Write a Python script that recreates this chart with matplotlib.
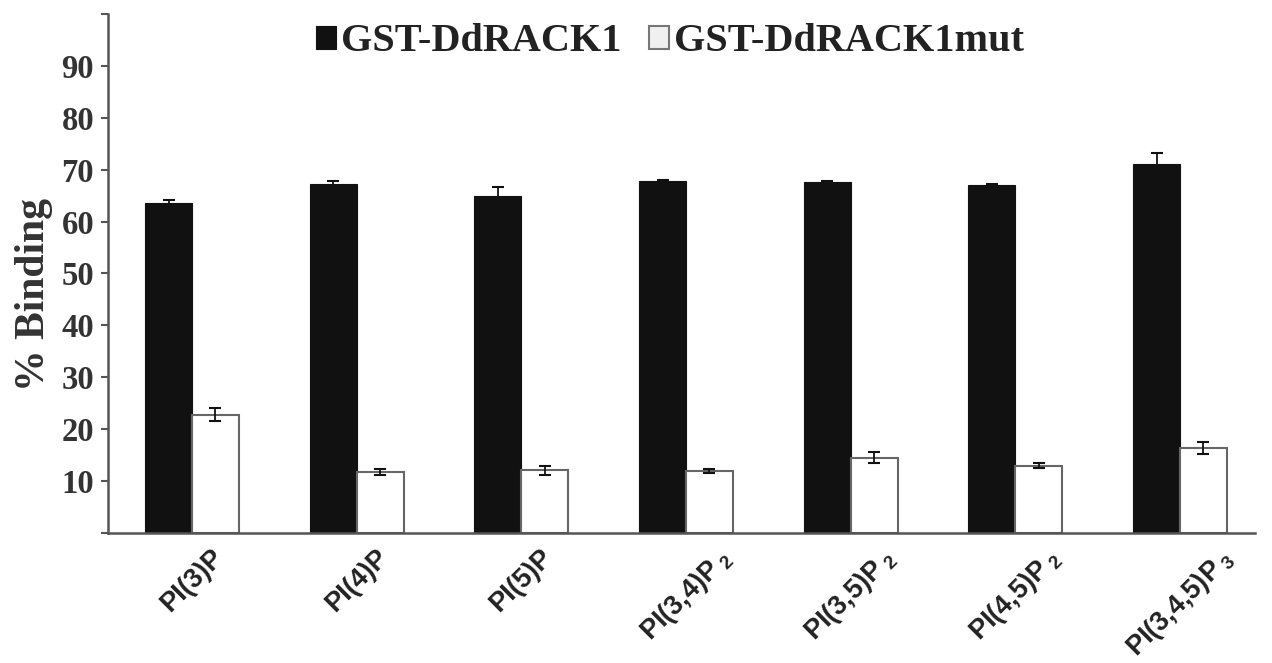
import numpy as np
import matplotlib
matplotlib.use("Agg")
import matplotlib.pyplot as plt

# data
categories = ["PI(3)P", "PI(4)P", "PI(5)P", r"PI(3,4)P$\,_{2}$",
              r"PI(3,5)P$\,_{2}$", r"PI(4,5)P$\,_{2}$", r"PI(3,4,5)P$\,_{3}$"]
rack1 = [63.6, 67.2, 65.0, 67.9, 67.6, 67.0, 71.1]
rack1_err = [0.6, 0.6, 1.7, 0.1, 0.3, 0.3, 2.1]
rack1mut = [22.8, 11.8, 12.05, 11.9, 14.55, 13.0, 16.35]
rack1mut_err = [1.25, 0.6, 0.95, 0.4, 1.15, 0.5, 1.1]

plt.rcParams['mathtext.default'] = 'regular'

fig = plt.figure(figsize=(12.72, 6.63), dpi=100)
ax = fig.add_axes([0.0849, 0.196, 0.9017, 0.783])

x = np.arange(len(categories))
w = 0.285
axis_col = '#555555'

ax.bar(x - w / 2, rack1, width=w, color='#111111', edgecolor='#111111',
       linewidth=0.8, label='GST-DdRACK1')
ax.bar(x + w / 2, rack1mut, width=w, color='white', edgecolor='#666666',
       linewidth=1.5, label='GST-DdRACK1mut')
ax.errorbar(x - w / 2, rack1, yerr=rack1_err, fmt='none', ecolor='#111111',
            elinewidth=1.3, capsize=4, capthick=1.5)
ax.errorbar(x + w / 2, rack1mut, yerr=rack1mut_err, fmt='none', ecolor='#111111',
            elinewidth=1.3, capsize=4, capthick=1.5)

ax.set_xlim(-0.51, 6.455)
ax.set_ylim(0, 100)

ax.spines['top'].set_visible(False)
ax.spines['right'].set_visible(False)
for s in ['left', 'bottom']:
    ax.spines[s].set_color(axis_col)
    ax.spines[s].set_linewidth(1.8)

yt = np.arange(0, 101, 10)
ax.set_yticks(yt)
ax.set_yticklabels(['' if (v == 0 or v == 100) else str(v) for v in yt],
                   family='Liberation Serif', fontweight='bold', fontsize=23.5,
                   color='#333333')
ax.tick_params(axis='y', length=5, width=1.5, color=axis_col, pad=5)

ax.set_xticks(x)
ax.set_xticklabels(categories, rotation=45, ha='center', va='top',
                   family='Liberation Sans', fontweight='bold', fontsize=19.5,
                   color='#222222')
ax.tick_params(axis='x', length=0, pad=8)

ax.set_ylabel('% Binding', family='Liberation Serif', fontweight='bold',
              fontsize=30, color='#333333')
ax.yaxis.set_label_coords(-0.048, 0.46)

leg = ax.legend(loc='center', bbox_to_anchor=(0.49, 0.946), ncol=2,
                frameon=False, handlelength=0.5, handleheight=0.5,
                handletextpad=0.12, columnspacing=0.7,
                prop={'family': 'Liberation Serif', 'weight': 'bold', 'size': 29})
leg.legend_handles[1].set_facecolor('#f0f0f0')
leg.legend_handles[1].set_edgecolor('#777777')
for t in leg.get_texts():
    t.set_color('#222222')

fig.savefig('out.png', dpi=100)
